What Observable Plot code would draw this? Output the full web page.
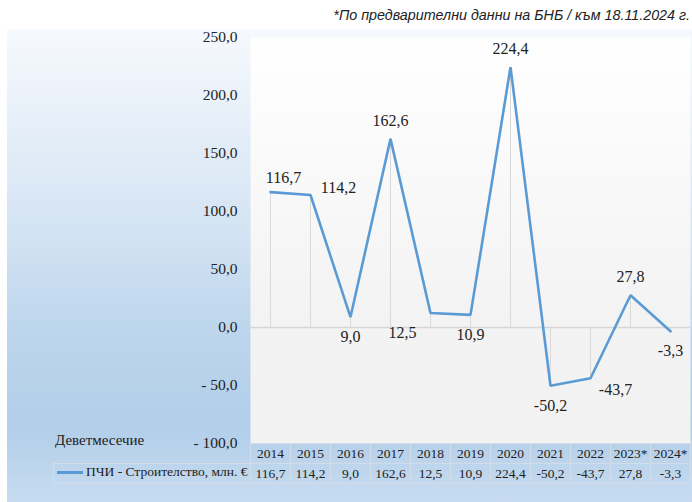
<!DOCTYPE html>
<html><head><meta charset="utf-8">
<script src="https://cdn.jsdelivr.net/npm/d3@7"></script>
<script src="https://cdn.jsdelivr.net/npm/@observablehq/plot@0.6"></script>
<style>
body{margin:0;overflow:hidden;background:#fff;}
#wrap{position:relative;width:692px;height:502px;overflow:hidden;font-family:"Liberation Serif","DejaVu Serif",serif;color:#333;}
#bg{position:absolute;left:7px;top:29px;right:0;bottom:0;background:linear-gradient(to bottom,#f6f9fd 0%,#d6e5f4 40%,#bcd5ec 65%,#b2cee9 84%,#c7dcf0 100%);}
#note{position:absolute;right:2px;top:7px;font:italic 14.3px "Liberation Sans",Arial,sans-serif;color:#222;white-space:nowrap;}
#chart{position:absolute;left:0;top:0;}
.cell{position:absolute;box-sizing:border-box;border:1px solid #d3dde8;text-align:center;font-size:13.5px;line-height:19px;color:#222;}
#period{position:absolute;left:55px;top:432px;font-size:15px;color:#222;}
#legendline{position:absolute;left:57px;top:471px;width:26px;height:2.5px;background:#5b9bd5;}
#legendtext{position:absolute;left:86px;top:464px;font-size:13.5px;color:#222;white-space:nowrap;}
</style></head>
<body>
<div id="wrap">
  <div id="bg"></div>
  <div id="note">*По предварителни данни на БНБ / към 18.11.2024 г.</div>
  <div id="chart"></div>
</div>
<script>
const years = ["2014","2015","2016","2017","2018","2019","2020","2021","2022","2023*","2024*"];
const values = [116.7,114.2,9.0,162.6,12.5,10.9,224.4,-50.2,-43.7,27.8,-3.3];
const labelPlacement = ["top-right","right","bottom","top","bottom-left","bottom","top","bottom","right-below","top","bottom"];
const yTicks = [-100,-50,0,50,100,150,200,250];
const seriesName = "ПЧИ - Строителство, млн. €";
const periodLabel = "Деветмесечие";

const SERIF = '"Liberation Serif", "DejaVu Serif", serif';
const loc = d3.formatLocale({decimal:",", thousands:" ", grouping:[3], currency:["",""], minus:"-"});
const f1 = loc.format(".1f");
const tickFmt = d => d < 0 ? "- " + f1(-d) : f1(d);

const offsets = {
  "top":[0,-18], "top-right":[13,-14], "right":[28,-7], "bottom":[0,20],
  "bottom-left":[-28,20], "right-below":[25,12]
};
const data = years.map((y,i) => ({year:y, value:values[i], place:labelPlacement[i]}));

const marks = [
  Plot.frame({fill:"url(#plotbg)", stroke:null}),
  Plot.ruleY([0], {stroke:"#d6d6d6", strokeWidth:1.5}),
  Plot.ruleX(data, {x:"year", y1:0, y2:"value", stroke:"#d9d9d9", strokeWidth:1}),
  Plot.line(data, {x:"year", y:"value", stroke:"#5b9bd5", strokeWidth:2.6, strokeLinejoin:"miter"}),
];
for (const k of Object.keys(offsets)) {
  marks.push(Plot.text(data.filter(d => d.place === k), {
    x:"year", y:"value", text:d => f1(d.value), dx:offsets[k][0], dy:offsets[k][1],
    fontSize:16, fill:"#222", fontFamily:SERIF
  }));
}
marks.push(Plot.axisY({ticks:yTicks, tickFormat:tickFmt, tickSize:0, tickPadding:13, fontSize:15.5, fontFamily:SERIF, label:null, fill:"#222"}));

const chart = Plot.plot({
  width:692, height:502,
  marginLeft:250, marginRight:2, marginTop:37, marginBottom:59,
  style:{background:"transparent", fontFamily:SERIF, fontSize:"15.5px", color:"#222"},
  x:{type:"point", domain:years, padding:0.5, axis:null},
  y:{domain:[-100,250]},
  marks
});
const svg = d3.select(chart);
svg.attr("font-family", SERIF);
const defs = svg.insert("defs", ":first-child");
const g = defs.append("linearGradient").attr("id","plotbg").attr("x1",0).attr("y1",0).attr("x2",0).attr("y2",1);
g.append("stop").attr("offset","0%").attr("stop-color","#ffffff");
g.append("stop").attr("offset","68%").attr("stop-color","#f3f3f3");
g.append("stop").attr("offset","100%").attr("stop-color","#f2f2f2");
document.getElementById("chart").appendChild(chart);

// data table aligned to the x scale
const wrap = document.getElementById("wrap");
const xs = chart.scale("x");
const step = 40;
const rowTop1 = 443, rowTop2 = 463, rowH = 20;
years.forEach((y,i) => {
  const cx = xs.apply(y);
  const c1 = document.createElement("div");
  c1.className = "cell"; c1.textContent = y;
  Object.assign(c1.style, {left:(cx-step/2)+"px", top:rowTop1+"px", width:(step+1)+"px", height:(rowH+1)+"px"});
  wrap.appendChild(c1);
  const c2 = document.createElement("div");
  c2.className = "cell"; c2.textContent = f1(values[i]);
  Object.assign(c2.style, {left:(cx-step/2)+"px", top:rowTop2+"px", width:(step+1)+"px", height:(rowH+1)+"px"});
  wrap.appendChild(c2);
});
const lc = document.createElement("div");
lc.className = "cell";
Object.assign(lc.style, {left:"53px", top:rowTop2+"px", width:(250-53+1)+"px", height:(rowH+1)+"px"});
wrap.appendChild(lc);
const ll = document.createElement("div"); ll.id = "legendline"; wrap.appendChild(ll);
const lt = document.createElement("div"); lt.id = "legendtext"; lt.textContent = seriesName; wrap.appendChild(lt);
const pl = document.createElement("div"); pl.id = "period"; pl.textContent = periodLabel; wrap.appendChild(pl);
</script>
</body></html>
